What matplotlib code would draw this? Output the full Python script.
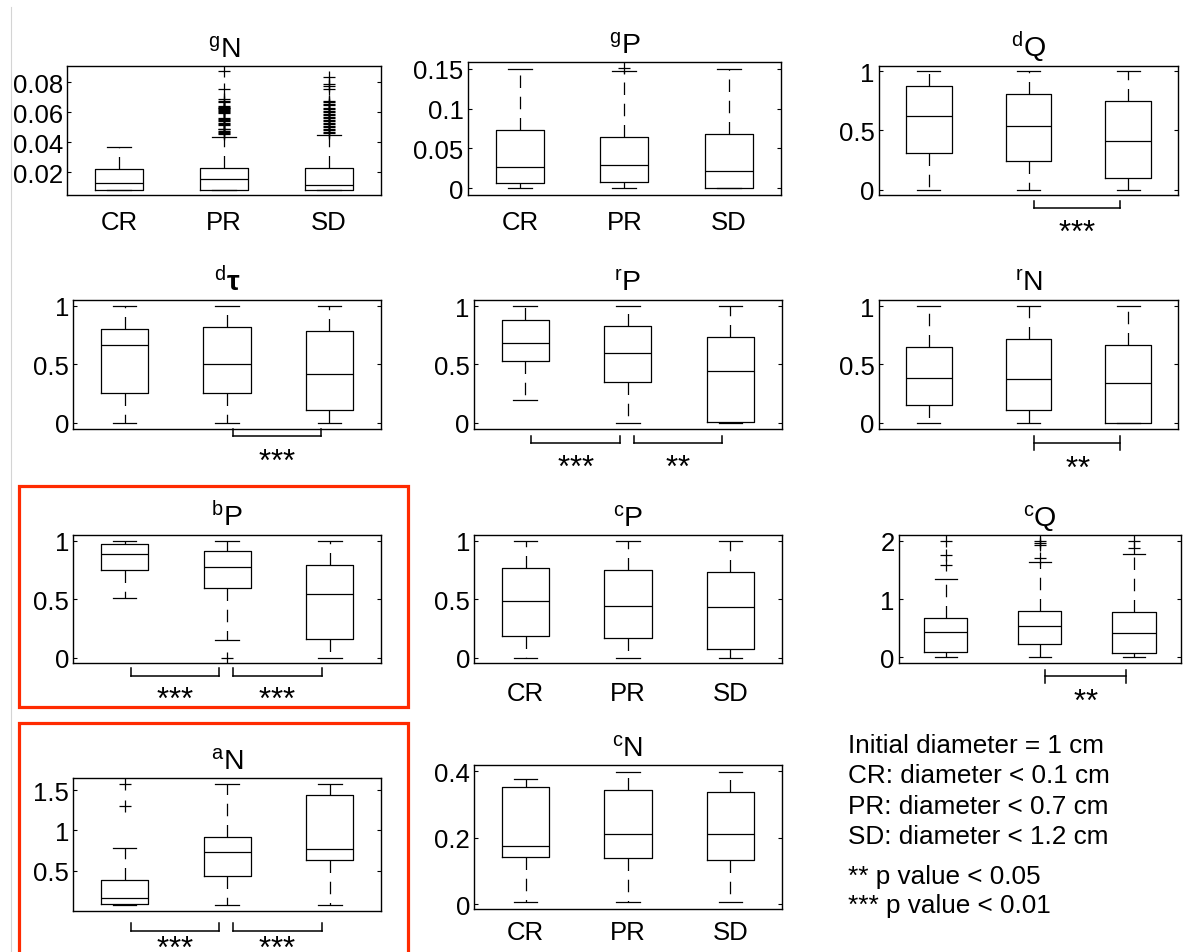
import matplotlib
matplotlib.use("Agg")
import matplotlib.pyplot as plt
import matplotlib.transforms as mtransforms
from matplotlib.patches import Rectangle
from matplotlib.lines import Line2D
from matplotlib.ticker import FuncFormatter

plt.rcParams['font.family'] = ['Liberation Sans', 'DejaVu Sans']
plt.rcParams['mathtext.fontset'] = 'custom'
plt.rcParams['mathtext.rm'] = 'Liberation Sans'
plt.rcParams['mathtext.it'] = 'Liberation Sans:italic'
plt.rcParams['mathtext.bf'] = 'Liberation Sans:bold'

groups = ['CR', 'PR', 'SD']

# ---------------- data ----------------
gN_q1 = [0.0079, 0.0079, 0.0079]
gN_med = [0.0129, 0.0156, 0.0111]
gN_q3 = [0.0223, 0.0226, 0.0230]
gN_lo = [0.0079, 0.0079, 0.0079]
gN_hi = [0.0364, 0.0435, 0.0450]
gN_out_CR = []
gN_out_PR = [0.0872, 0.0751, 0.0688, 0.0677, 0.0665, 0.0643, 0.0636, 0.0630, 0.0624,
             0.0618, 0.0612, 0.0605, 0.0599, 0.0592, 0.0560, 0.0553, 0.0545, 0.0538,
             0.0530, 0.0522, 0.0513, 0.0490, 0.0484, 0.0477, 0.0470, 0.0463, 0.0456]
gN_out_SD = [0.0834, 0.0789, 0.0773, 0.0757, 0.0675, 0.0665, 0.0655, 0.0645, 0.0630,
             0.0620, 0.0610, 0.0598, 0.0588, 0.0578, 0.0568, 0.0558, 0.0548, 0.0538,
             0.0528, 0.0518, 0.0508, 0.0498, 0.0488, 0.0478, 0.0468, 0.0460]

gP_q1 = [0.0067, 0.0075, 0.0]
gP_med = [0.0264, 0.0297, 0.0217]
gP_q3 = [0.0733, 0.0648, 0.0686]
gP_lo = [0.0, 0.0, 0.0]
gP_hi = [0.150, 0.1475, 0.150]
gP_out_PR = [0.1505]

dQ_q1 = [0.313, 0.245, 0.101]
dQ_med = [0.626, 0.541, 0.414]
dQ_q3 = [0.874, 0.809, 0.747]
dQ_lo = [0.0, 0.0, 0.0]
dQ_hi = [1.0, 1.0, 1.0]

dT_q1 = [0.255, 0.252, 0.106]
dT_med = [0.666, 0.503, 0.417]
dT_q3 = [0.803, 0.820, 0.783]
dT_lo = [0.0, 0.0, 0.0]
dT_hi = [1.0, 1.0, 1.0]

rP_q1 = [0.526, 0.351, 0.009]
rP_med = [0.683, 0.600, 0.440]
rP_q3 = [0.880, 0.829, 0.737]
rP_lo = [0.195, 0.0, 0.0]
rP_hi = [1.0, 1.0, 1.0]

rN_q1 = [0.154, 0.108, 0.0]
rN_med = [0.380, 0.374, 0.337]
rN_q3 = [0.646, 0.716, 0.671]
rN_lo = [0.0, 0.0, 0.0]
rN_hi = [1.0, 1.0, 1.0]

bP_q1 = [0.747, 0.598, 0.157]
bP_med = [0.886, 0.775, 0.544]
bP_q3 = [0.972, 0.909, 0.792]
bP_lo = [0.510, 0.154, 0.0]
bP_hi = [1.0, 1.0, 1.0]
bP_out_PR = [0.0]

cP_q1 = [0.188, 0.166, 0.077]
cP_med = [0.487, 0.444, 0.430]
cP_q3 = [0.764, 0.747, 0.732]
cP_lo = [0.0, 0.0, 0.0]
cP_hi = [1.0, 1.0, 1.0]

cQ_q1 = [0.097, 0.233, 0.074]
cQ_med = [0.430, 0.532, 0.418]
cQ_q3 = [0.670, 0.800, 0.778]
cQ_lo = [0.0, 0.0, 0.0]
cQ_hi = [1.352, 1.645, 1.777]
cQ_out_CR = [1.587, 1.76, 2.0]
cQ_out_PR = [1.70, 1.937, 1.966, 2.0]
cQ_out_SD = [1.88, 2.0]

aN_q1 = [0.093, 0.434, 0.629]
aN_med = [0.164, 0.733, 0.768]
aN_q3 = [0.384, 0.917, 1.438]
aN_lo = [0.073, 0.073, 0.073]
aN_hi = [0.778, 1.575, 1.575]
aN_out_CR = [1.305, 1.575]

cN_q1 = [0.142, 0.140, 0.132]
cN_med = [0.174, 0.210, 0.210]
cN_q3 = [0.352, 0.345, 0.337]
cN_lo = [0.005, 0.005, 0.005]
cN_hi = [0.378, 0.398, 0.398]

# significance: (group a, group b, stars)
dQ_sig = [(2, 3, '***')]
dT_sig = [(2, 3, '***')]
rP_sig = [(1, 2, '***'), (2, 3, '**')]
rN_sig = [(2, 3, '**')]
bP_sig = [(1, 2, '***'), (2, 3, '***')]
cQ_sig = [(2, 3, '**')]
aN_sig = [(1, 2, '***'), (2, 3, '***')]

notes = ['Initial diameter = 1 cm', 'CR: diameter < 0.1 cm', 'PR: diameter < 0.7 cm',
         'SD: diameter < 1.2 cm', '** p value < 0.05', '*** p value < 0.01']

# ---------------- drawing ----------------
W, H = 1194, 953
fig = plt.figure(figsize=(W / 100, H / 100), dpi=100)
FS = 18.5
TFS = 20.5
LW = 0.9


def rect(l, t, r, b):
    return [l / W, 1 - b / H, (r - l) / W, (b - t) / H]


def stars_text(st):
    # each asterisk in braces so mathtext does not space them as operators
    return r'$\mathregular{' + ''.join('{*}' for _ in st) + '}$'


def panel(title, box, q1, med, q3, lo, hi, outs, ylim, yticks,
          labels=False, xpad=12, sig=(), bracket=None):
    ax = fig.add_axes(rect(*box))
    stats = [dict(med=med[i], q1=q1[i], q3=q3[i], whislo=lo[i], whishi=hi[i],
                  fliers=outs[i]) for i in range(3)]
    ax.bxp(stats, positions=[1, 2, 3], widths=0.46, capwidths=0.23, showfliers=True,
           boxprops=dict(color='k', lw=LW),
           medianprops=dict(color='k', lw=LW),
           whiskerprops=dict(color='k', lw=LW, linestyle=(0, (10, 7))),
           capprops=dict(color='k', lw=LW),
           flierprops=dict(marker='+', markeredgecolor='k', markersize=8,
                           markeredgewidth=LW, linestyle='none'))
    ax.set_xlim(0.5, 3.5)
    ax.set_ylim(*ylim)
    ax.set_yticks(yticks)
    ax.yaxis.set_major_formatter(FuncFormatter(lambda v, p: '%g' % v))
    ax.tick_params(axis='y', direction='in', length=3, width=0.8, labelsize=FS,
                   right=True, pad=3)
    if labels:
        ax.set_xticks([1, 2, 3], groups)
        ax.tick_params(axis='x', length=0, labelsize=FS, pad=xpad)
    else:
        ax.set_xticks([])
    for s in ax.spines.values():
        s.set_linewidth(1.0)
    ax.set_title(title, fontsize=TFS, pad=7)
    if sig:
        yb, yt, ys, style = bracket
        tr = mtransforms.blended_transform_factory(ax.transData, ax.transAxes)
        for a, b, st in sig:
            x0, x1 = a + 0.06, b - 0.08
            ax.add_line(Line2D([x0, x1], [yb, yb], color='k', lw=1.1, transform=tr,
                               clip_on=False))
            if style == 'H':
                dy = yb - yt
                for x in (x0, x1):
                    ax.add_line(Line2D([x, x], [yb - dy, yb + dy], color='k', lw=1.1,
                                       transform=tr, clip_on=False))
            else:
                for x in (x0, x1):
                    ax.add_line(Line2D([x, x], [yb, yt], color='k', lw=1.1,
                                       transform=tr, clip_on=False))
            ax.text((x0 + x1) / 2, ys, stars_text(st), transform=tr, ha='center',
                    va='top', fontsize=FS + 4)
    return ax


panel(r'$^{\mathrm{g}}\mathrm{N}$', (67, 67, 381, 196), gN_q1, gN_med, gN_q3, gN_lo, gN_hi,
      [gN_out_CR, gN_out_PR, gN_out_SD], (0.0047, 0.0907), [0.02, 0.04, 0.06, 0.08],
      labels=True, xpad=11)
panel(r'$^{\mathrm{g}}\mathrm{P}$', (467.7, 63.3, 781, 195.7), gP_q1, gP_med, gP_q3, gP_lo, gP_hi,
      [[], gP_out_PR, []], (-0.008, 0.158), [0, 0.05, 0.1, 0.15],
      labels=True, xpad=11)
panel(r'$^{\mathrm{d}}\mathrm{Q}$', (878.7, 66.7, 1178.3, 196), dQ_q1, dQ_med, dQ_q3, dQ_lo, dQ_hi,
      [[], [], []], (-0.045, 1.047), [0, 0.5, 1],
      sig=dQ_sig, bracket=(-0.103, -0.044, -0.172, 'L'))
panel(r'$^{\mathrm{d}}\mathbf{\tau}$', (73.3, 301, 380.7, 430), dT_q1, dT_med, dT_q3, dT_lo, dT_hi,
      [[], [], []], (-0.054, 1.051), [0, 0.5, 1],
      sig=dT_sig, bracket=(-0.057, 0.0, -0.129, 'L'))
panel(r'$^{\mathrm{r}}\mathrm{P}$', (474, 301.3, 781.7, 430), rP_q1, rP_med, rP_q3, rP_lo, rP_hi,
      [[], [], []], (-0.054, 1.051), [0, 0.5, 1],
      sig=rP_sig, bracket=(-0.109, -0.052, -0.181, 'L'))
panel(r'$^{\mathrm{r}}\mathrm{N}$', (878.7, 301.3, 1178.3, 430), rN_q1, rN_med, rN_q3, rN_lo, rN_hi,
      [[], [], []], (-0.054, 1.051), [0, 0.5, 1],
      sig=rN_sig, bracket=(-0.111, -0.057, -0.189, 'H'))
panel(r'$^{\mathrm{b}}\mathrm{P}$', (73.3, 536, 381, 664.3), bP_q1, bP_med, bP_q3, bP_lo, bP_hi,
      [[], bP_out_PR, []], (-0.048, 1.049), [0, 0.5, 1],
      sig=bP_sig, bracket=(-0.099, -0.039, -0.161, 'L'))
panel(r'$^{\mathrm{c}}\mathrm{P}$', (474.3, 536, 781.7, 664.3), cP_q1, cP_med, cP_q3, cP_lo, cP_hi,
      [[], [], []], (-0.048, 1.049), [0, 0.5, 1],
      labels=True, xpad=13)
panel(r'$^{\mathrm{c}}\mathrm{Q}$', (898.7, 536, 1181, 664.3), cQ_q1, cQ_med, cQ_q3, cQ_lo, cQ_hi,
      [cQ_out_CR, cQ_out_PR, cQ_out_SD], (-0.103, 2.103), [0, 1, 2],
      sig=cQ_sig, bracket=(-0.101, -0.05, -0.179, 'H'))
panel(r'$^{\mathrm{a}}\mathrm{N}$', (73.3, 779, 381, 911.7), aN_q1, aN_med, aN_q3, aN_lo, aN_hi,
      [aN_out_CR, [], []], (0.005, 1.649), [0.5, 1, 1.5],
      sig=aN_sig, bracket=(-0.151, -0.095, -0.165, 'L'))
panel(r'$^{\mathrm{c}}\mathrm{N}$', (474.3, 766, 781.7, 910), cN_q1, cN_med, cN_q3, cN_lo, cN_hi,
      [[], [], []], (-0.015, 0.419), [0, 0.2, 0.4],
      labels=True, xpad=8)

# notes
note_y = [753.3, 783.3, 814.3, 844.3, 884, 913.3]
for txt, y in zip(notes, note_y):
    fig.text(848 / W, 1 - y / H, txt, fontsize=FS + 0.3, ha='left', va='baseline')

# red highlight boxes
red = '#ff2a00'
for (l, t, r, b) in [(19.3, 486.7, 408.3, 708.3), (19.3, 724, 408.3, 975)]:
    fig.patches.append(Rectangle((l / W, 1 - b / H), (r - l) / W, (b - t) / H,
                                 transform=fig.transFigure, fill=False,
                                 edgecolor=red, lw=2.3, clip_on=False))
# faint page edge line
fig.add_artist(Line2D([11 / W, 11 / W], [0, 1 - 8 / H], transform=fig.transFigure,
                      color='#d4d4d4', lw=0.8))

fig.savefig('out.png', dpi=100)
